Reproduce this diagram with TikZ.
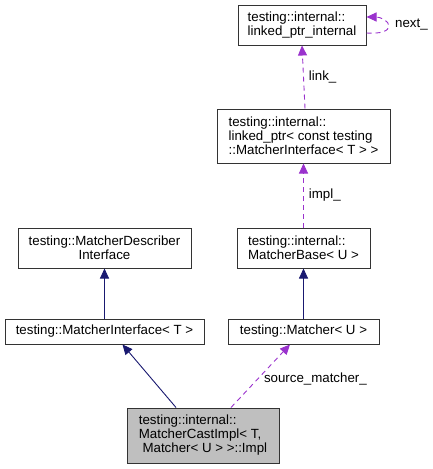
\documentclass[tikz,border=0pt]{standalone}
\usepackage{fontspec}
\setmainfont{Liberation Sans}
\usetikzlibrary{arrows.meta}
\definecolor{edgenavy}{HTML}{191970}
\definecolor{edgepurple}{HTML}{9A32CD}
\definecolor{boxgray}{HTML}{BFBFBF}
\begin{document}
\begin{tikzpicture}[x=1pt,y=-1pt,
  every node/.style={font=\fontsize{13.3}{14}\selectfont},
  cls/.style={draw=black!80,line width=1pt,fill=white,inner sep=0pt,align=left},
  inh/.style={draw=edgenavy,line width=0.9pt,-{Triangle[length=10pt,width=9pt]}},
  use/.style={draw=edgepurple,line width=0.9pt,dash pattern=on 5pt off 4pt,-{Triangle[length=10pt,width=9pt]}},
  lbl/.style={inner sep=0pt}]
\useasboundingbox (0,0) rectangle (433,469);
\node[cls,minimum width=128pt,minimum height=40pt] (lpi) at (302,25) {testing::internal::\\linked\_ptr\_internal};
\node[cls,minimum width=173pt,minimum height=54pt] (lp) at (303.5,136) {testing::internal::\\linked\_ptr\textless{} const testing\\::MatcherInterface\textless{} T \textgreater{} \textgreater{}};
\node[cls,align=center,minimum width=173pt,minimum height=40pt] (mdi) at (104.5,248) {testing::MatcherDescriber\\Interface};
\node[cls,minimum width=133pt,minimum height=40pt] (mb) at (303.5,248) {testing::internal::\\MatcherBase\textless{} U \textgreater{}};
\node[cls,minimum width=199pt,minimum height=25pt] (mi) at (104.5,331.5) {testing::MatcherInterface\textless{} T \textgreater{}};
\node[cls,minimum width=151pt,minimum height=25pt] (m) at (303.5,331.5) {testing::Matcher\textless{} U \textgreater{}};
\node[cls,fill=boxgray,minimum width=152pt,minimum height=55pt] (impl) at (203,435.5) {testing::internal::\\MatcherCastImpl\textless{} T,\\\ Matcher\textless{} U \textgreater{} \textgreater{}::Impl};

\draw[inh] (mi.north -| mdi.south) -- (mdi.south);
\draw[inh] (m.north -| mb.south) -- (mb.south);
\draw[inh] ([xshift=-27pt]impl.north) -- ([xshift=18pt]mi.south);
\draw[use] ([xshift=28pt]impl.north) -- node[lbl,pos=0.45,right=6pt] {source\_matcher\_} ([xshift=-13.5pt]m.south);
\draw[use] (mb.north) -- node[lbl,right=5pt] {impl\_} (lp.south);
\draw[use] ([xshift=1.5pt]lp.north) -- node[lbl,right=5pt] {link\_} (lpi.south);
\draw[use] ([yshift=-8pt]lpi.east) .. controls +(14,1) and +(0,5) .. (389,26) .. controls +(0,-5) and +(14,0) .. ([yshift=8pt]lpi.east);
\node[lbl,anchor=west] (nx) at (395,25) {next\_};
\end{tikzpicture}
\end{document}
